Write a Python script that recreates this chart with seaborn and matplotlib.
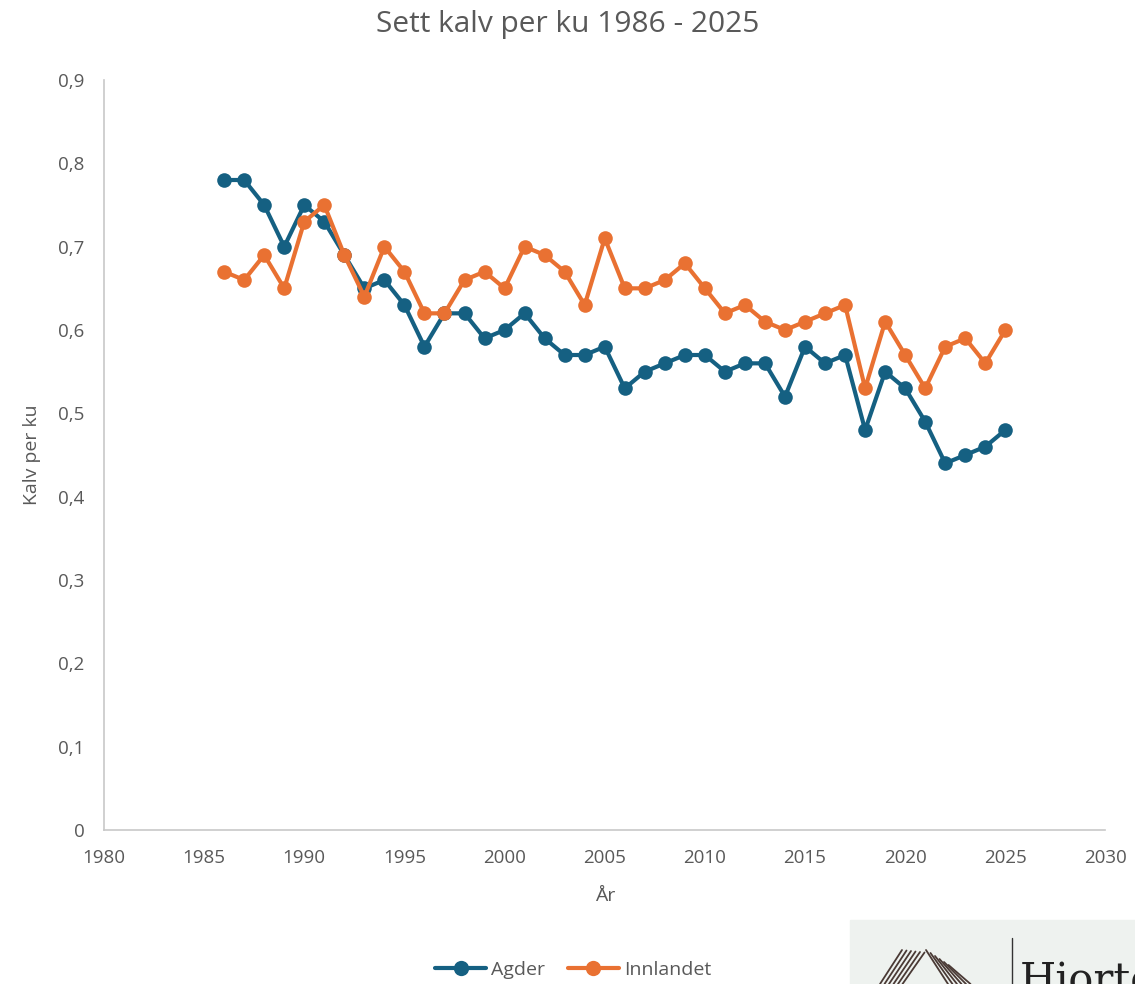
import numpy as np
import pandas as pd
import matplotlib.pyplot as plt
import seaborn as sns
from matplotlib.patches import Rectangle
from matplotlib.lines import Line2D
from matplotlib.ticker import FuncFormatter

years = list(range(1986, 2026))
agder = [0.78, 0.78, 0.75, 0.70, 0.75, 0.73, 0.69, 0.65, 0.66, 0.63,
         0.58, 0.62, 0.62, 0.59, 0.60, 0.62, 0.59, 0.57, 0.57, 0.58,
         0.53, 0.55, 0.56, 0.57, 0.57, 0.55, 0.56, 0.56, 0.52, 0.58,
         0.56, 0.57, 0.48, 0.55, 0.53, 0.49, 0.44, 0.45, 0.46, 0.48]
innlandet = [0.67, 0.66, 0.69, 0.65, 0.73, 0.75, 0.69, 0.64, 0.70, 0.67,
             0.62, 0.62, 0.66, 0.67, 0.65, 0.70, 0.69, 0.67, 0.63, 0.71,
             0.65, 0.65, 0.66, 0.68, 0.65, 0.62, 0.63, 0.61, 0.60, 0.61,
             0.62, 0.63, 0.53, 0.61, 0.57, 0.53, 0.58, 0.59, 0.56, 0.60]
series = ['Agder', 'Innlandet']
colors = ['#156082', '#E97132']

df = pd.DataFrame({'År': years * 2,
                   'verdi': agder + innlandet,
                   'region': ['Agder'] * len(years) + ['Innlandet'] * len(years)})

sns.set_style('white')
plt.rcParams['font.family'] = ['Open Sans', 'DejaVu Sans']
grey = '#595959'

fig = plt.figure(figsize=(11.35, 9.84), dpi=100)
ax = fig.add_axes([0.0916, 0.1565, 0.8824, 0.7622])

sns.lineplot(data=df, x='År', y='verdi', hue='region', hue_order=series,
             palette=colors, marker='o', markersize=10.5, markeredgewidth=0,
             linewidth=3, ax=ax, legend=False)

ax.set_xlim(1980, 2030)
ax.set_ylim(0, 0.9)
ax.set_xticks(range(1980, 2031, 5))
ax.set_yticks(np.arange(0, 0.91, 0.1))
ax.yaxis.set_major_formatter(FuncFormatter(
    lambda v, p: '0' if abs(v) < 1e-9 else f'{v:.1f}'.replace('.', ',')))
ax.tick_params(labelsize=13.5, colors=grey, length=0, pad=14)
for s in ['top', 'right']:
    ax.spines[s].set_visible(False)
for s in ['left', 'bottom']:
    ax.spines[s].set_color('#C8C8C8')
    ax.spines[s].set_linewidth(1.2)

ax.set_xlabel('År', fontsize=14, color=grey, labelpad=14)
ax.set_ylabel('Kalv per ku', fontsize=14, color=grey, labelpad=12)
fig.suptitle('Sett kalv per ku 1986 - 2025', fontsize=21.5, color=grey, y=0.99)

handles = [Line2D([0], [0], color=c, lw=3, marker='o', markersize=11,
                  markeredgewidth=0) for c in colors]
fig.legend(handles, series, loc='center', bbox_to_anchor=(0.505, 0.014),
           ncol=2, frameon=False, fontsize=14, labelcolor=grey,
           handlelength=2.6, columnspacing=1.2, handletextpad=0.25)

# logo fragment in the lower right corner
W, H = 1135, 984
fig.patches.append(Rectangle((850 / W, 0), 285 / W, 64 / H,
                             transform=fig.transFigure, color='#EEF2EF', zorder=0))
for i in range(6):
    xt = 902 + i * 4.5
    fig.lines.append(Line2D([xt / W, (xt - 22) / W], [(H - 950 - i * 0.5) / H, 0],
                            transform=fig.transFigure, color='#4A3A35', lw=1.3))
    xr = 926 + i * 4.5
    fig.lines.append(Line2D([xr / W, (xr + 22) / W], [(H - 950 - i * 3) / H, 0],
                            transform=fig.transFigure, color='#4A3A35', lw=1.3))
fig.lines.append(Line2D([1012 / W, 1012 / W], [0, 46 / H],
                        transform=fig.transFigure, color='#333333', lw=1))
fig.text(1020 / W, -18 / H, 'Hjortevilt', fontsize=30, family='DejaVu Serif',
         color='#222222', va='bottom', ha='left')

fig.savefig('out.png', dpi=100)
